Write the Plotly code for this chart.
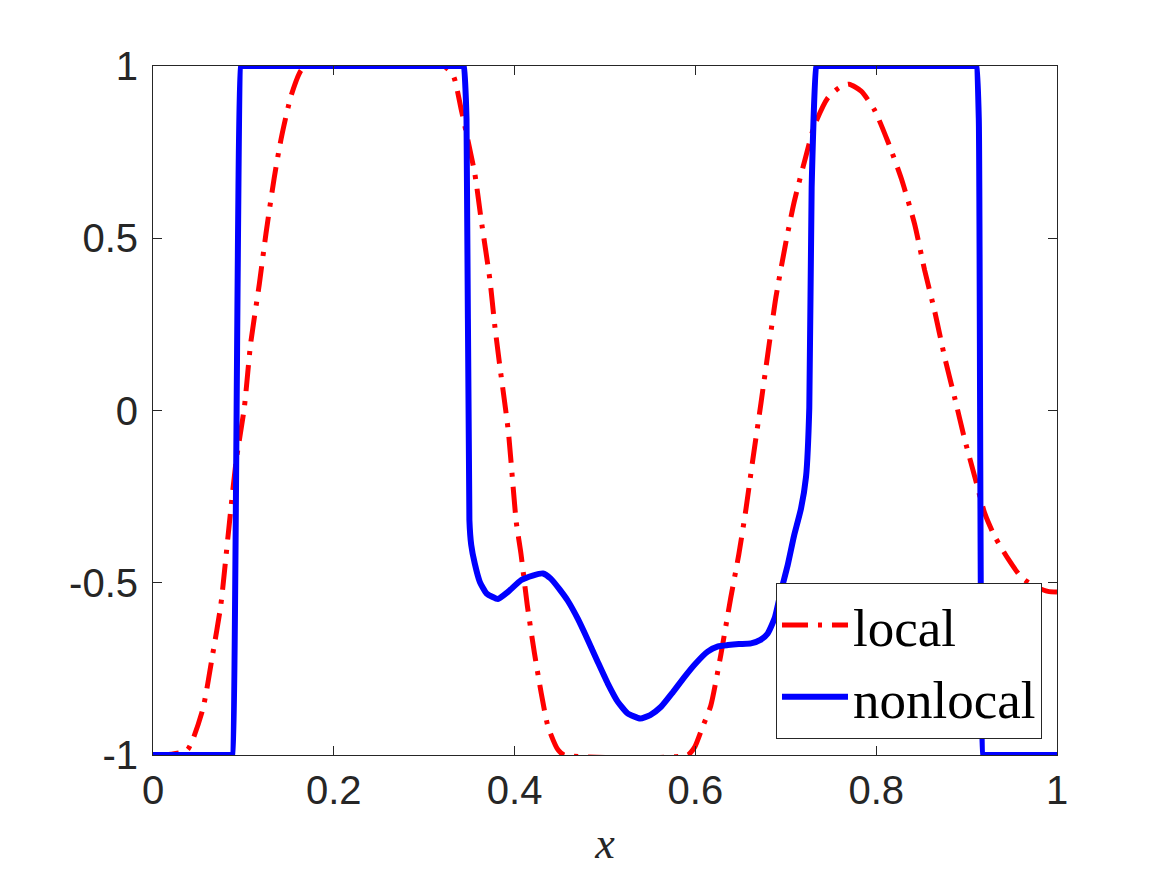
import plotly.graph_objects as go

# local solution (red dash-dot)
local_x = [0, 0.02, 0.038, 0.0547, 0.0658, 0.075, 0.083, 0.0917, 0.101, 0.108,
           0.1176, 0.125, 0.134, 0.1416, 0.1527, 0.1638, 0.171, 0.321, 0.332, 0.341,
           0.356, 0.363, 0.3726, 0.378, 0.3837, 0.393, 0.4018, 0.407, 0.414, 0.422,
           0.4295, 0.437, 0.448, 0.455, 0.5915, 0.599, 0.608, 0.617, 0.628, 0.639,
           0.648, 0.656, 0.663, 0.6725, 0.6817, 0.689, 0.700, 0.7094, 0.7224, 0.7316,
           0.7464, 0.759, 0.770, 0.7834, 0.798, 0.813, 0.8277, 0.8425, 0.8536, 0.8647,
           0.8758, 0.887, 0.898, 0.909, 0.92, 0.931, 0.946, 0.9608, 0.9756, 0.990, 1.0]
local_y = [-1, -0.998, -0.985, -0.871, -0.711, -0.565, -0.365, -0.152, 0.008, 0.194,
           0.367, 0.514, 0.674, 0.787, 0.913, 0.987, 1.0, 1.0, 0.973, 0.873,
           0.687, 0.554, 0.381, 0.248, 0.128, -0.059, -0.323, -0.415, -0.565, -0.705,
           -0.821, -0.918, -0.985, -1.0, -1.0, -0.978, -0.918, -0.857, -0.711, -0.545,
           -0.418, -0.285, -0.152, 0.021, 0.194, 0.328, 0.487, 0.607, 0.740, 0.827,
           0.907, 0.937, 0.947, 0.927, 0.873, 0.780, 0.674, 0.541, 0.407, 0.288,
           0.154, 0.035, -0.085, -0.192, -0.298, -0.365, -0.431, -0.485, -0.511, -0.525, -0.527]

# nonlocal solution (blue solid); tight extra points keep the jumps' corners sharp
nonlocal_x = [0, 0.0875, 0.088, 0.097, 0.0975, 0.3435, 0.344, 0.3468, 0.350, 0.352,
              0.356, 0.3616, 0.369, 0.3816, 0.392, 0.4074, 0.420, 0.4313, 0.440, 0.450,
              0.459, 0.470, 0.481, 0.492, 0.503, 0.514, 0.525, 0.539, 0.550, 0.562,
              0.575, 0.588, 0.600, 0.6136, 0.625, 0.636, 0.648, 0.6615, 0.672, 0.680,
              0.688, 0.6946, 0.702, 0.709, 0.7168, 0.7224, 0.726, 0.7286, 0.7335, 0.734,
              0.9105, 0.911, 0.9135, 0.918, 0.9185, 1.0]
nonlocal_y = [-1, -1, -1, 1, 1, 1, 1, 0.847, -0.318, -0.39,
              -0.445, -0.498, -0.531, -0.547, -0.528, -0.492, -0.479, -0.473, -0.488, -0.52,
              -0.553, -0.605, -0.666, -0.73, -0.792, -0.845, -0.879, -0.894, -0.884, -0.86,
              -0.818, -0.773, -0.735, -0.70, -0.685, -0.681, -0.678, -0.676, -0.666, -0.647,
              -0.60, -0.525, -0.45, -0.365, -0.285, -0.192, 0.008, 0.647, 1.0, 1.0,
              1.0, 1.0, 0.847, -1, -1, -1]

x_ticks = [0, 0.2, 0.4, 0.6, 0.8, 1]
x_labels = ["0", "0.2", "0.4", "0.6", "0.8", "1"]
y_ticks = [-1, -0.5, 0, 0.5, 1]
y_labels = ["-1", "-0.5", "0", "0.5", "1"]

fig = go.Figure()

fig.add_trace(go.Scatter(
    x=local_x, y=local_y, mode="lines", name="local",
    line=dict(color="#ff0000", width=5, dash="26px,10px,4px,10px",
              shape="spline", smoothing=0.6),
    cliponaxis=False,
))
fig.add_trace(go.Scatter(
    x=nonlocal_x, y=nonlocal_y, mode="lines", name="nonlocal",
    line=dict(color="#0000ff", width=6, shape="spline", smoothing=0.5),
    cliponaxis=False,
))

axis_style = dict(
    showline=True, linecolor="#262626", linewidth=1, mirror="ticks",
    ticks="inside", ticklen=9, tickcolor="#262626", tickwidth=1,
    showgrid=False, zeroline=False,
    tickfont=dict(family="Liberation Sans, Arial, sans-serif", size=40, color="#262626"),
)

fig.update_layout(
    width=1167, height=875,
    paper_bgcolor="white", plot_bgcolor="white",
    margin=dict(l=145, r=118, t=58, b=128),
    xaxis=dict(range=[0, 1], tickvals=x_ticks, ticktext=x_labels,
               title=dict(text="<i>x</i>", standoff=16,
                          font=dict(family="Liberation Serif, serif", size=44, color="#262626")),
               **axis_style),
    yaxis=dict(range=[-1, 1], tickvals=y_ticks, ticktext=y_labels,
               ticklabelstandoff=6, **axis_style),
    legend=dict(
        x=0.9834, y=0.0232, xanchor="right", yanchor="bottom",
        bgcolor="white", bordercolor="#262626", borderwidth=1,
        font=dict(family="Liberation Serif, serif", size=53, color="black"),
        itemwidth=66, tracegroupgap=0,
    ),
)

fig.write_html("out.html")
